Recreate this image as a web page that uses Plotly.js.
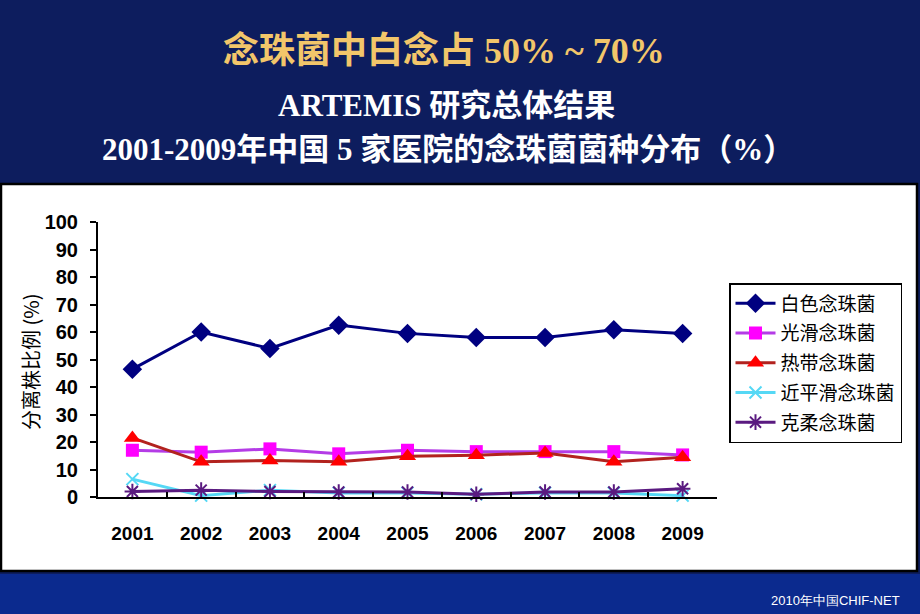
<!DOCTYPE html>
<html>
<head>
<meta charset="utf-8">
<script src="https://cdn.plot.ly/plotly-3.0.1.min.js"></script>
<style>
html,body{margin:0;padding:0;background:#0d1d5e;}
#chart{width:920px;height:614px;}
</style>
</head>
<body>
<div id="chart"></div>
<script>
// ---- data ----
const years = ['2001','2002','2003','2004','2005','2006','2007','2008','2009'];
const albicans     = [46.5, 60.0, 54.0, 62.5, 59.5, 58.0, 58.0, 60.8, 59.5];
const glabrata     = [17.0, 16.3, 17.5, 15.7, 17.0, 16.5, 16.5, 16.5, 15.3];
const tropicalis   = [21.5, 12.8, 13.3, 12.8, 14.8, 15.2, 16.0, 12.8, 14.5];
const parapsilosis = [6.5, 0.5, 2.5, 1.5, 1.5, 1.0, 1.5, 1.5, 0.5];
const krusei       = [2.0, 2.5, 2.0, 1.8, 1.8, 1.0, 1.8, 1.8, 3.0];
const seriesNames  = ['白色念珠菌','光滑念珠菌','热带念珠菌','近平滑念珠菌','克柔念珠菌'];
const yTicks = [0,10,20,30,40,50,60,70,80,90,100];

const titleMain = '念珠菌中白念占 50% ~ 70%';
const titleSub1 = 'ARTEMIS 研究总体结果';
const titleSub2 = '2001-2009年中国 5 家医院的念珠菌菌种分布（%）';
const yTitle = '分离株比例 (%)';
const footer = '2010年中国CHIF-NET';

// ---- layout geometry ----
const W = 920, H = 614;
const M = {l: 98, r: 203, t: 222, b: 117};
const pw = W - M.l - M.r, ph = H - M.t - M.b;
const px = x => (x - M.l) / pw;
const py = y => (H - M.b - y) / ph;

const cjk = '"Noto Sans CJK SC", "Liberation Sans", sans-serif';
const serifCjk = '"Liberation Serif", "Noto Sans CJK SC", serif';
const armB = '"Liberation Sans", Arial, sans-serif';

const traces = [
  {y: albicans, name: seriesNames[0], line:{color:'#000080', width:3},
   marker:{symbol:'diamond', size:15, color:'#000080'}},
  {y: glabrata, name: seriesNames[1], line:{color:'#b43ce6', width:3},
   marker:{symbol:'square', size:13, color:'#ff00ff'}},
  {y: tropicalis, name: seriesNames[2], line:{color:'#b2221e', width:3},
   marker:{symbol:'triangle-up', size:15, color:'#ff0000'}},
  {y: parapsilosis, name: seriesNames[3], line:{color:'#55d8f5', width:3},
   marker:{symbol:'x-thin-open', size:12, color:'#55d8f5', line:{width:2, color:'#55d8f5'}}},
  {y: krusei, name: seriesNames[4], line:{color:'#5a1a80', width:3},
   marker:{symbol:'asterisk-open', size:13, color:'#5a1a80', line:{width:2, color:'#5a1a80'}}}
].map((t,i) => Object.assign({x: years, type:'scatter', mode:'lines+markers', legendgroup:'g'+i, cliponaxis:false}, t));

const layout = {
  width: W, height: H,
  margin: M,
  paper_bgcolor: '#0d1d5e',
  plot_bgcolor: 'rgba(0,0,0,0)',
  showlegend: true,
  legend: {
    x: px(729), y: py(283), xanchor:'left', yanchor:'top',
    bgcolor:'#ffffff', bordercolor:'#000000', borderwidth:1.5,
    font:{family: cjk, size:19, color:'#000000'},
    tracegroupgap: 2, itemwidth: 40
  },
  xaxis: {
    type:'category', range:[-0.5, 8.5],
    showline:true, linecolor:'#000000', linewidth:2,
    ticks:'inside', tickson:'boundaries', ticklen:5, tickwidth:2, tickcolor:'#000000',
    showgrid:false, zeroline:false,
    tickfont:{family: armB, size:19, color:'#000000', weight:'bold'},
    ticklabelstandoff: 18
  },
  yaxis: {
    range:[0,100], tickvals: yTicks,
    showline:true, linecolor:'#000000', linewidth:2,
    ticks:'outside', ticklen:6, tickwidth:2, tickcolor:'#000000',
    showgrid:false, zeroline:false,
    tickfont:{family: armB, size:20, color:'#000000', weight:'bold'},
    ticklabelstandoff: 8
  },
  shapes: [
    // white chart panel
    {type:'rect', xref:'paper', yref:'paper', layer:'below',
     x0: px(1), x1: px(917), y0: py(571), y1: py(184),
     fillcolor:'#ffffff', line:{color:'#000000', width:2.5}},
    // bottom band
    {type:'rect', xref:'paper', yref:'paper', layer:'below',
     x0: px(0), x1: px(920), y0: py(614), y1: py(574),
     fillcolor:'#0b2a8e', line:{width:0}}
  ],
  annotations: [
    {text: titleMain, xref:'paper', yref:'paper', x: px(444), y: py(51),
     xanchor:'center', yanchor:'middle', showarrow:false,
     font:{family: serifCjk, size:36, color:'#f2c66a', weight:'bold'}},
    {text: titleSub1, xref:'paper', yref:'paper', x: px(446), y: py(106),
     xanchor:'center', yanchor:'middle', showarrow:false,
     font:{family: serifCjk, size:31, color:'#ffffff', weight:'bold'}},
    {text: titleSub2, xref:'paper', yref:'paper', x: px(448), y: py(149),
     xanchor:'center', yanchor:'middle', showarrow:false,
     font:{family: serifCjk, size:31, color:'#ffffff', weight:'bold'}},
    {text: yTitle, xref:'paper', yref:'paper', x: px(30), y: py(362),
     xanchor:'center', yanchor:'middle', showarrow:false, textangle:-90,
     font:{family: cjk, size:20, color:'#000000'}},
    {text: footer, xref:'paper', yref:'paper', x: px(902), y: py(600),
     xanchor:'right', yanchor:'middle', showarrow:false,
     font:{family: armB, size:13, color:'#ffffff'}}
  ]
};

Plotly.newPlot('chart', traces, layout, {displayModeBar:false, staticPlot:true});
</script>
</body>
</html>
